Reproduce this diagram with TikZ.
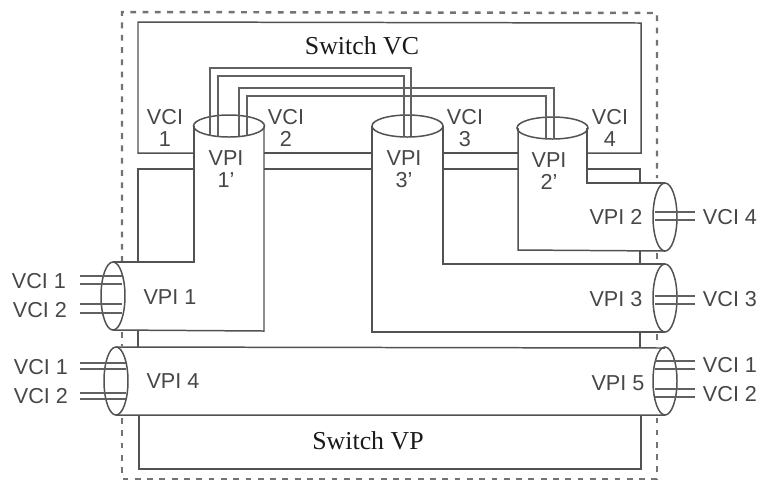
\documentclass[tikz,border=0pt]{standalone}
\usepackage{fontspec}
\setmainfont{Liberation Serif}
\setsansfont{Liberation Sans}
\tikzset{
  wall/.style={draw=black!68,line width=0.85pt},
  wire/.style={draw=black!62,line width=0.8pt},
  fence/.style={draw=black!55,line width=1.4pt,dash pattern=on 3.3pt off 3.7pt},
  tag/.style={font=\sffamily\fontsize{12.3}{12.3}\selectfont,text=black!72,inner sep=0pt},
  title/.style={font=\fontsize{14.7}{15}\selectfont,text=black!90,inner sep=0pt}
}
\begin{document}
\begin{tikzpicture}[x=0.2mm,y=-0.2mm]
  \useasboundingbox (0,0) rectangle (760,482);
  % the dashed outline, cut where the pipes leave it
  \draw[fence] (122,262) -- (122,12) -- (657,13) -- (657,178);
  \draw[fence] (657,253) -- (657,262);
  \draw[fence] (657,334) -- (657,346);
  \draw[fence] (122,332) -- (122,346);
  \draw[fence] (122,418) -- (122,479) -- (657,479) -- (657,418);
  % switch VC box and the rails below it
  \draw[wall] (194,153) -- (138,153) -- (138,22) -- (641,23) -- (641,153) -- (587,153);
  \draw[wall] (264,153) -- (372,153) (443,153) -- (518,153);
  \draw[wall] (264,169) -- (372,169) (443,169) -- (518,169);
  \draw[wall] (194,169) -- (138,169) -- (138,262);
  \draw[wall] (587,169) -- (640,169) -- (640,183);
  % stubs between the pipes
  \draw[wall] (138,331) -- (138,347) (640,251) -- (640,264) (640,332) -- (640,347);
  % switch VP box
  \draw[wall] (139,415) -- (139,469) -- (641,469) -- (641,415);
  % pipes
  \draw[wall] (194,126) -- (194,262) -- (113,262);
  \draw[wall] (264,126) -- (264,331) -- (113,330);
  \draw[wall] (372,126) -- (372,332) -- (665,332);
  \draw[wall] (443,126) -- (443,264) -- (665,264);
  \draw[wall] (518,128) -- (518,250) -- (665,251);
  \draw[wall] (587,128) -- (587,183) -- (665,183);
  \draw[wall] (116,347) -- (665,348) (116,415) -- (665,415);
  % pipe ends
  \foreach \cx/\cy/\ry in {113/296/34,116/381/34,665/217/34,665/298/34,665/381/34}
    \draw[wall] (\cx,\cy) ellipse [x radius=12,y radius=\ry];
  \foreach \cx/\cy in {229/126,407.5/126,552.5/128}
    \draw[wall] (\cx,\cy) ellipse [x radius=35.5,y radius=11];
  % wires between the VPI pipes
  \draw[wire] (210,136) -- (210,68) -- (411,68) -- (411,136);
  \draw[wire] (218,137) -- (218,76) -- (404,76) -- (404,137);
  \draw[wire] (239,136) -- (239,88) -- (554,88) -- (554,139);
  \draw[wire] (247,135) -- (247,96) -- (546,96) -- (546,139);
  % wires out of the pipe ends
  \foreach \ya in {276,284,304,313}
    \draw[wire] (80,\ya) -- (122,\ya);
  \foreach \ya in {363,369,393,399}
    \draw[wire] (80,\ya) -- (126,\ya);
  \foreach \ya in {212,220,296,304,361,369,389,397}
    \draw[wire] (655,\ya) -- (695,\ya);
  % labels
  \node[title] (swvc) at (362,46) {Switch VC};
  \node[title] (swvp) at (368,441) {Switch VP};
  \foreach \nm/\lx/\ly/\txt in {a/165/128/{VCI\\1},b/286/128/{VCI\\2},c/465/128/{VCI\\3},d/610/128/{VCI\\4},
      e/226/169/{VPI\\1'},f/404/169/{VPI\\3'},g/549/171/{VPI\\2'}}
    \node[tag,align=center] (\nm) at (\lx,\ly) {\txt};
  \foreach \nm/\lx/\ly/\txt in {h/170/297/VPI 1,i/173/381/VPI 4,j/616/299/VPI 3,k/618/383/VPI 5,l/616/217/VPI 2,
      m/730/217/VCI 4,n/730/299/VCI 3,o/730/365/VCI 1,p/730/394/VCI 2,
      q/39/281/VCI 1,r/40/310/VCI 2,s/41/367/VCI 1,t/41/396/VCI 2}
    \node[tag] (\nm) at (\lx,\ly) {\txt};
\end{tikzpicture}
\end{document}
